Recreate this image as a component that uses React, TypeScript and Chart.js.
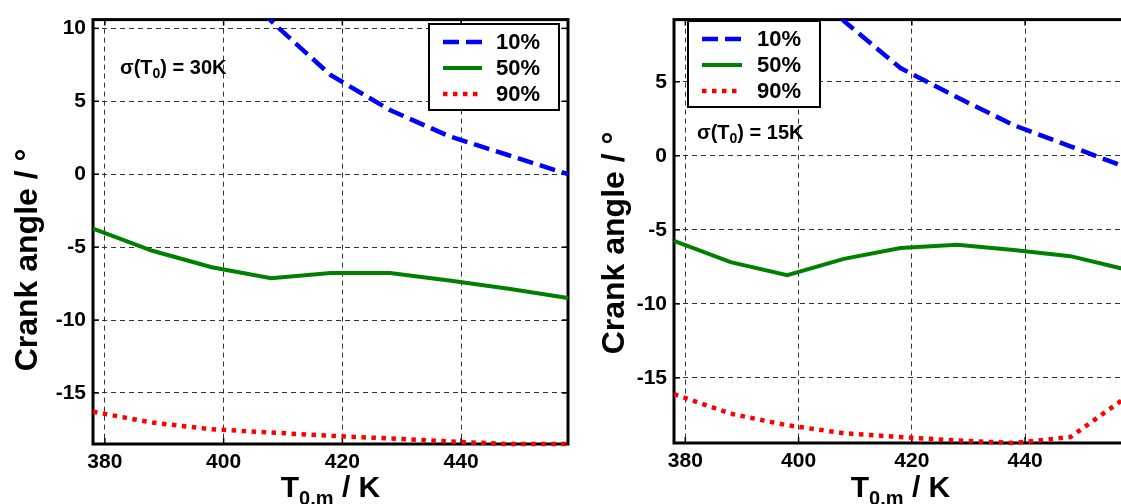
import React, { useEffect, useRef } from 'react';
import { Chart, registerables } from 'chart.js';

Chart.register(...registerables);

// ---------- data ----------
const temps = [378, 388, 398, 408, 418, 428, 438, 448, 458];
const xTicks = [380, 400, 420, 440];
const leftYTicks = [-15, -10, -5, 0, 5, 10];
const rightYTicks = [-15, -10, -5, 0, 5];
const seriesLabels = ['10%', '50%', '90%'];

const left10 = [28, 21, 15.5, 10.5, 6.8, 4.4, 2.6, 1.3, 0.0];
const left50 = [-3.73, -5.25, -6.38, -7.13, -6.77, -6.77, -7.29, -7.86, -8.49];
const left90 = [-16.29, -17.03, -17.49, -17.71, -17.94, -18.12, -18.33, -18.5, -18.5];

const right10 = [26, 20, 14.5, 9.1, 5.93, 3.95, 2.07, 0.64, -0.8];
const right50 = [-5.75, -7.18, -8.06, -6.96, -6.23, -6.01, -6.36, -6.78, -7.7];
const right90 = [-16.1, -17.42, -18.2, -18.74, -19.0, -19.23, -19.4, -19.0, -16.27];

const leftSigma = '30K';
const rightSigma = '15K';
const yTitle = 'Crank angle / °';

// ---------- styles ----------
const FONT = '"Liberation Sans", Arial, Helvetica, sans-serif';
const seriesStyles = [
  { color: '#0000ff', width: 4.5, dash: [16, 7] },
  { color: '#008000', width: 4, dash: [] as number[] },
  { color: '#ff0000', width: 4.5, dash: [4.5, 5.5] },
];

type PanelCfg = {
  left: number;
  width: number;
  padTop: number;
  padRight: number;
  yAxisW: number;
  xAxisH: number;
  yMin: number;
  yMax: number;
  yTicks: number[];
  series: number[][];
  sigma: string;
  noteX: number;
  noteY: number;
  yTitleX: number;
  yTitleY: number;
  legend: { x: number; y: number; w: number; h: number; row0: number; gap: number; sx: number; sw: number; tx: number };
};

const panels: PanelCfg[] = [
  {
    left: 0,
    width: 580,
    padTop: 15,
    padRight: 12,
    yAxisW: 93,
    xAxisH: 60,
    yMin: -18.5,
    yMax: 10.6,
    yTicks: leftYTicks,
    series: [left10, left50, left90],
    sigma: leftSigma,
    noteX: 120,
    noteY: 74,
    yTitleX: 37,
    yTitleY: 260,
    legend: { x: 429, y: 24, w: 130, h: 86, row0: 18, gap: 26, sx: 443, sw: 39, tx: 496 },
  },
  {
    left: 580,
    width: 560,
    padTop: 11,
    padRight: 13,
    yAxisW: 94,
    xAxisH: 61,
    yMin: -19.4,
    yMax: 9.2,
    yTicks: rightYTicks,
    series: [right10, right50, right90],
    sigma: rightSigma,
    noteX: 117,
    noteY: 139,
    yTitleX: 44,
    yTitleY: 243,
    legend: { x: 108, y: 21, w: 132, h: 86, row0: 18, gap: 26, sx: 122, sw: 40, tx: 177 },
  },
];

function drawParts(
  ctx: CanvasRenderingContext2D,
  parts: { t: string; size: number; dy: number }[],
  x: number,
  y: number,
  center: boolean
) {
  let total = 0;
  parts.forEach((p) => {
    ctx.font = `bold ${p.size}px ${FONT}`;
    total += ctx.measureText(p.t).width;
  });
  let cx = center ? x - total / 2 : x;
  ctx.textAlign = 'left';
  ctx.textBaseline = 'alphabetic';
  parts.forEach((p) => {
    ctx.font = `bold ${p.size}px ${FONT}`;
    ctx.fillText(p.t, cx, y + p.dy);
    cx += ctx.measureText(p.t).width;
  });
}

function makePlugin(cfg: PanelCfg) {
  return {
    id: 'panelDecor',
    beforeDatasetsDraw(chart: any) {
      const { ctx, chartArea: a } = chart;
      ctx.save();
      ctx.strokeStyle = '#000';
      ctx.lineWidth = 3;
      ctx.setLineDash([]);
      ctx.strokeRect(a.left, a.top, a.right - a.left, a.bottom - a.top);
      ctx.lineWidth = 1.5;
      const xs = chart.scales.x;
      const ys = chart.scales.y;
      const seg = (x1: number, y1: number, x2: number, y2: number) => {
        ctx.beginPath();
        ctx.moveTo(x1, y1);
        ctx.lineTo(x2, y2);
        ctx.stroke();
      };
      xs.ticks.forEach((t: any) => {
        const px = xs.getPixelForValue(t.value);
        seg(px, a.bottom, px, a.bottom - 6);
        seg(px, a.top, px, a.top + 6);
      });
      ys.ticks.forEach((t: any) => {
        const py = ys.getPixelForValue(t.value);
        seg(a.left, py, a.left + 6, py);
        seg(a.right, py, a.right - 6, py);
      });
      ctx.restore();
    },
    afterDraw(chart: any) {
      const { ctx, chartArea: a } = chart;
      ctx.save();
      // legend
      const lg = cfg.legend;
      ctx.fillStyle = '#fff';
      ctx.fillRect(lg.x, lg.y, lg.w, lg.h);
      ctx.strokeStyle = '#000';
      ctx.lineWidth = 2;
      ctx.setLineDash([]);
      ctx.strokeRect(lg.x, lg.y, lg.w, lg.h);
      chart.data.datasets.forEach((ds: any, i: number) => {
        const y = lg.y + lg.row0 + i * lg.gap;
        ctx.strokeStyle = ds.borderColor;
        ctx.lineWidth = ds.borderWidth;
        ctx.setLineDash(ds.borderDash || []);
        ctx.lineCap = 'butt';
        ctx.beginPath();
        ctx.moveTo(lg.sx, y);
        ctx.lineTo(lg.sx + lg.sw, y);
        ctx.stroke();
        ctx.setLineDash([]);
        ctx.fillStyle = '#000';
        ctx.font = `bold 22px ${FONT}`;
        ctx.textAlign = 'left';
        ctx.textBaseline = 'middle';
        ctx.fillText(ds.label, lg.tx, y + 1);
      });
      // sigma note
      ctx.fillStyle = '#000';
      drawParts(
        ctx,
        [
          { t: 'σ(T', size: 20, dy: 0 },
          { t: '0', size: 14, dy: 4 },
          { t: ') = ' + cfg.sigma, size: 20, dy: 0 },
        ],
        cfg.noteX,
        cfg.noteY,
        false
      );
      // x title
      drawParts(
        ctx,
        [
          { t: 'T', size: 30, dy: 0 },
          { t: '0,m', size: 20, dy: 8 },
          { t: ' / K', size: 30, dy: 0 },
        ],
        (a.left + a.right) / 2,
        497,
        true
      );
      // y title
      ctx.save();
      ctx.translate(cfg.yTitleX, cfg.yTitleY);
      ctx.rotate(-Math.PI / 2);
      ctx.font = `bold 32px ${FONT}`;
      ctx.textAlign = 'center';
      ctx.textBaseline = 'alphabetic';
      ctx.fillText(yTitle, 0, 0);
      ctx.restore();
      ctx.restore();
    },
  };
}

function Panel({ cfg }: { cfg: PanelCfg }) {
  const ref = useRef<HTMLCanvasElement>(null);
  useEffect(() => {
    const canvas = ref.current!;
    const tickFont = { family: FONT, size: 21, weight: 'bold' as const };
    const chart = new Chart(canvas, {
      type: 'line',
      data: {
        datasets: cfg.series.map((vals, i) => ({
          label: seriesLabels[i],
          data: temps.map((t, k) => ({ x: t, y: vals[k] })),
          borderColor: seriesStyles[i].color,
          backgroundColor: seriesStyles[i].color,
          borderWidth: seriesStyles[i].width,
          borderDash: seriesStyles[i].dash,
          borderCapStyle: 'butt',
          borderJoinStyle: 'miter',
          pointRadius: 0,
          tension: 0,
          fill: false,
          clip: { left: 0, top: 0, right: 4, bottom: 4 },
        })),
      },
      options: {
        responsive: false,
        animation: false,
        events: [],
        layout: { padding: { top: cfg.padTop, right: cfg.padRight, left: 0, bottom: 0 } },
        plugins: { legend: { display: false }, tooltip: { enabled: false }, title: { display: false } },
        scales: {
          x: {
            type: 'linear',
            min: 378,
            max: 458,
            afterBuildTicks: (ax: any) => {
              ax.ticks = xTicks.map((v) => ({ value: v }));
            },
            afterFit: (ax: any) => {
              ax.height = cfg.xAxisH;
            },
            grid: { color: '#333', lineWidth: 1, drawTicks: false },
            border: { display: false, dash: [5, 4] },
            ticks: { font: tickFont, color: '#000', padding: 6, maxRotation: 0, autoSkip: false },
          },
          y: {
            type: 'linear',
            min: cfg.yMin,
            max: cfg.yMax,
            afterBuildTicks: (ax: any) => {
              ax.ticks = cfg.yTicks.map((v) => ({ value: v }));
            },
            afterFit: (ax: any) => {
              ax.width = cfg.yAxisW;
            },
            grid: { color: '#333', lineWidth: 1, drawTicks: false },
            border: { display: false, dash: [5, 4] },
            ticks: { font: tickFont, color: '#000', padding: 7, autoSkip: false },
          },
        },
      },
      plugins: [makePlugin(cfg)],
    } as any);
    return () => chart.destroy();
  }, [cfg]);
  return (
    <canvas
      ref={ref}
      width={cfg.width}
      height={504}
      style={{ position: 'absolute', left: cfg.left, top: 0, width: cfg.width, height: 504, display: 'block' }}
    />
  );
}

export default function App() {
  return (
    <div
      style={{
        position: 'absolute',
        left: 0,
        top: 0,
        width: 1121,
        height: 504,
        overflow: 'hidden',
        background: '#fff',
      }}
    >
      {panels.map((p, i) => (
        <Panel key={i} cfg={p} />
      ))}
    </div>
  );
}
